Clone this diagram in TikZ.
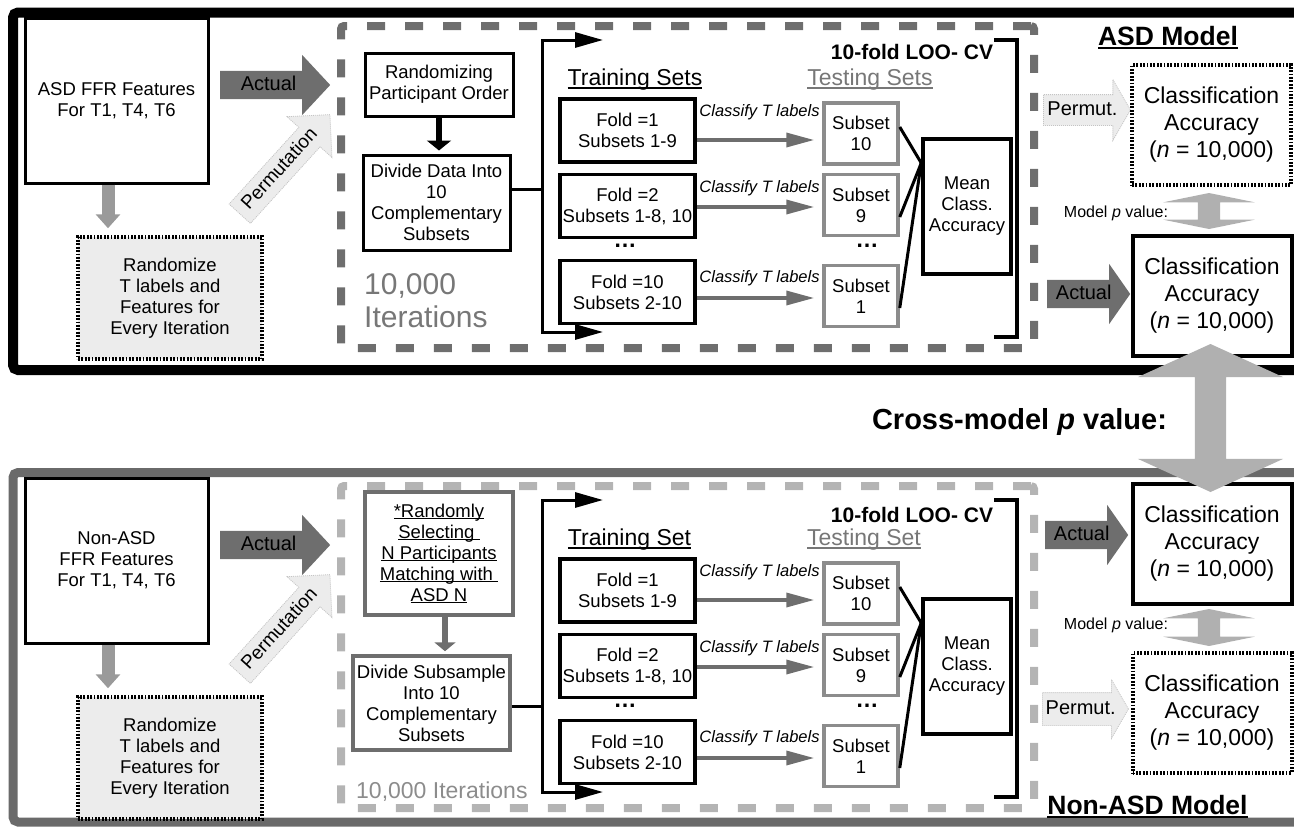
\documentclass[tikz,border=0pt]{standalone}
\usepackage{fontspec}
\setmainfont{Liberation Sans}
\usetikzlibrary{arrows.meta, shapes.arrows, positioning}
\definecolor{gDark}{HTML}{6E6E6E}
\definecolor{gFrame}{HTML}{6A6A6A}
\definecolor{gDashL}{HTML}{B4B4B4}
\definecolor{gMid}{HTML}{9A9A9A}
\definecolor{gLight}{HTML}{ECECEC}
\definecolor{gEdge}{HTML}{C4C4C4}
\definecolor{gBig}{HTML}{B0B0B0}
\definecolor{gText}{HTML}{777777}
\definecolor{gSub}{HTML}{8C8C8C}
\newcommand{\fsz}[2]{\fontsize{#1}{#2}\selectfont}
\newcommand{\uln}[1]{\leavevmode\setbox0\hbox{#1}\rlap{\rule[-0.13em]{\wd0}{0.07em}}\box0}
\tikzset{
  plainbox/.style  = {draw, line width=3pt, align=center, inner sep=0pt, font=\fsz{18.5}{21}},
  featbox/.style   = {plainbox, minimum width=183pt, minimum height=165pt},
  randbox/.style   = {plainbox, fill=gLight, line width=3.5pt, dash pattern=on 1.8pt off 1.6pt,
                      minimum width=184pt, minimum height=122pt},
  foldbox/.style   = {plainbox, line width=3.5pt, minimum width=135pt, minimum height=63pt},
  subbox/.style    = {plainbox, draw=gSub, line width=3.5pt, minimum width=74pt, minimum height=61pt},
  meanbox/.style   = {plainbox, line width=3.5pt, minimum width=88pt, minimum height=135pt},
  accbox/.style    = {plainbox, line width=4pt, minimum width=159pt, minimum height=120pt, font=\fsz{23}{27}},
  accdot/.style    = {accbox, dash pattern=on 1.8pt off 1.6pt},
  iterbox/.style   = {draw=#1, line width=8pt, dash pattern=on 18pt off 20pt, rounded corners=3pt,
                      minimum width=693pt, minimum height=322pt, inner sep=0pt},
  actarrow/.style  = {single arrow, fill=gDark, font=\fsz{20}{22}, text height=14pt, text depth=4pt,
                      inner xsep=0pt, inner ysep=5pt, single arrow head extend=16pt, minimum height=#1},
  permarrow/.style = {actarrow=#1, fill=gLight, draw=gEdge, line width=0.8pt, dash pattern=on 1pt off 1pt},
  dblarrow/.style  = {double arrow, fill=gBig, rotate=90, text height=0pt, text depth=0pt, inner xsep=0pt},
  clsarrow/.style  = {gDark, line width=3.5pt, -{Triangle[width=14pt,length=28pt]}, shorten >=8pt},
  cls/.style       = {text=black, font=\fsz{16.5}{18}\itshape, inner sep=0pt},
  forkline/.style  = {line width=3pt, -{Triangle[width=15pt,length=28pt]}},
  joinline/.style  = {line width=3pt},
  downarrow/.style = {gMid, line width=13pt, -{Triangle[width=24pt,length=14pt]}, shorten >=7pt},
  steparrow/.style = {line width=5.5pt, -{Triangle[width=24pt,length=10pt]}, shorten >=3pt},
  setlbl/.style    = {font=\fsz{23}{26}, inner sep=0pt},
  cvlbl/.style     = {font=\fsz{21}{24}\bfseries, inner sep=0pt},
  modellbl/.style  = {font=\fsz{26.5}{30}\bfseries, inner sep=0pt},
  dotlbl/.style    = {font=\fsz{23}{26}\bfseries, inner sep=0pt},
}

\begin{document}
\begin{tikzpicture}[x=1pt, y=-1pt]
  \useasboundingbox (0,0) rectangle (1294,830);
  \clip (0,0) rectangle (1294,830);
  \draw[line width=10pt, rounded corners=5pt] (13,12.5) rectangle (1330,370);
  \draw[gFrame, line width=9pt, rounded corners=5pt] (13,472.5) rectangle (1330,822);
  \node[iterbox=gDark] (asdIter) at (687.5,187) {};
  \node[iterbox=gDashL] (nasdIter) at (687.5,647) {};

  % ASD model
  \node[featbox] (asdF) at (116.5,100.5) {ASD FFR Features\\For T1, T4, T6};
  \node[randbox] (asdRand) at (170,298) {Randomize\\T labels and\\Features for\\Every Iteration};
  \node[actarrow=110pt, single arrow tip angle=94, anchor=tail] (asdAct) at (220,85) {Actual};
  \node[permarrow=134pt, rotate=47.7, font=\fsz{19}{21}, inner ysep=5pt,
        single arrow head extend=16pt] (asdPerm) at (280,169.5) {Permutation};
  \node[plainbox, minimum width=148pt, minimum height=63pt] (asdOrder) at (439,84.5) {Randomizing\\Participant Order};
  \node[plainbox, minimum width=147pt, minimum height=95pt] (asdDiv) at (436.5,202.5)
    {Divide Data Into\\10\\Complementary\\Subsets};
  \node[gText, font=\fsz{30}{33}, align=left, inner sep=0pt, anchor=west] (asdIt) at (364,301) {10,000\\Iterations};
  \coordinate (asdFork) at (542,189);
  \coordinate (asdUp) at (603,40);
  \coordinate (asdDown) at (603,332);
  \node[setlbl] (asdTrain) at (635,80) {\uln{Training Sets}};
  \node[foldbox] (asdF1) at (627.5,130.5) {Fold =1\\Subsets 1-9};
  \node[foldbox] (asdF2) at (627.5,206) {Fold =2\\Subsets 1-8, 10};
  \node[dotlbl] (asdFdots) at (625,246) {…};
  \node[foldbox] (asdF10) at (627.5,292) {Fold =10\\Subsets 2-10};
  \node[cvlbl] (asdCV) at (912,52) {10-fold LOO- CV};
  \node[setlbl, gText] (asdTest) at (870,80) {\uln{Testing Sets}};
  \node[subbox] (asdS10) at (861,133.5) {Subset\\10};
  \node[subbox] (asdS9) at (861,205) {Subset\\9};
  \node[dotlbl] (asdSdots) at (867,246) {…};
  \node[subbox] (asdS1) at (861,296) {Subset\\1};
  \node[meanbox] (asdMean) at (967,206.5) {Mean\\Class.\\Accuracy};
  \coordinate (asdJoin) at ([yshift=43.5pt]asdMean.west);
  \node[modellbl] (asdModel) at (1168,38) {\uln{ASD Model}};
  \node[permarrow=87pt, single arrow tip angle=120, inner ysep=6pt, single arrow head extend=15pt,
        anchor=tail] (asdPermR) at (1043,110) {Permut.};
  \node[accdot] (asdAccP) at (1211.5,125) {Classification\\Accuracy\\(\textit{n} = 10,000)};
  \node[font=\fsz{16}{18}, inner sep=0pt] (asdPv) at (1116,213) {Model \textit{p} value:};
  \node[dblarrow, inner ysep=11pt, double arrow head extend=34.5pt, double arrow tip angle=157,
        minimum height=36pt] (asdPvArr) at (1209,211) {};
  \node[actarrow=83pt, single arrow tip angle=110, anchor=tail] (asdActR) at (1047,294) {Actual};
  \node[accbox] (asdAccA) at (1212,296) {Classification\\Accuracy\\(\textit{n} = 10,000)};

  \draw[downarrow] ([xshift=-8.5pt]asdF.south) -- ([xshift=-8.5pt]asdF.south |- asdRand.north);
  \draw[steparrow] (asdOrder.south) -- (asdOrder.south |- asdDiv.north);
  \draw[forkline] (asdDiv.east |- asdFork) -- (asdFork) |- (asdUp);
  \draw[forkline] (asdFork) |- (asdDown);
  \draw[clsarrow] ([yshift=-9.5pt]asdF1.east) -- ([yshift=-9.5pt]asdF1.east -| asdS10.west)
    node[cls, midway, above=18pt] {Classify T labels};
  \draw[clsarrow] ([yshift=-1pt]asdF2.east) -- ([yshift=-1pt]asdF2.east -| asdS9.west)
    node[cls, midway, above=9pt] {Classify T labels};
  \draw[clsarrow] ([yshift=-6pt]asdF10.east) -- ([yshift=-6pt]asdF10.east -| asdS1.west)
    node[cls, midway, above=10pt] {Classify T labels};
  \draw[joinline] ([yshift=6.5pt]asdS10.east) -- (asdJoin);
  \draw[joinline] ([yshift=-12pt]asdS9.east) -- (asdJoin);
  \draw[joinline] ([yshift=-12pt]asdS1.east) -- (asdJoin);
  \draw[line width=3.5pt] (994,40) -- (1017,40) -- (1017,337) -- (994,337);

  % Non-ASD model
  \node[featbox] (nasdF) at (116.5,560.5) {Non-ASD\\FFR Features\\For T1, T4, T6};
  \node[randbox] (nasdRand) at (170,758) {Randomize\\T labels and\\Features for\\Every Iteration};
  \node[actarrow=110pt, single arrow tip angle=94, anchor=tail] (nasdAct) at (220,545) {Actual};
  \node[permarrow=134pt, rotate=47.7, font=\fsz{19}{21}, inner ysep=5pt,
        single arrow head extend=16pt] (nasdPerm) at (280,629.5) {Permutation};
  \node[plainbox, draw=gDark, line width=3.5pt, minimum width=148pt, minimum height=123pt] (nasdSel) at (439,553.5)
    {\uln{*Randomly}\\\uln{Selecting\ }\\\uln{N Participants}\\\uln{Matching with\ }\\\uln{ASD N}};
  \node[plainbox, draw=gDark, line width=3.5pt, minimum width=157pt, minimum height=94pt] (nasdDiv) at (431.5,703)
    {Divide Subsample\\Into 10\\Complementary\\Subsets};
  \node[gSub, font=\fsz{23}{26}, inner sep=0pt, anchor=west] (nasdIt) at (356,792) {10,000 Iterations};
  \coordinate (nasdFork) at (542,706);
  \coordinate (nasdUp) at (603,500);
  \coordinate (nasdDown) at (603,792);
  \node[setlbl] (nasdTrain) at (629.5,540) {\uln{Training Set}};
  \node[foldbox] (nasdF1) at (627.5,590.5) {Fold =1\\Subsets 1-9};
  \node[foldbox] (nasdF2) at (627.5,666) {Fold =2\\Subsets 1-8, 10};
  \node[dotlbl] (nasdFdots) at (625,706) {…};
  \node[foldbox] (nasdF10) at (627.5,752) {Fold =10\\Subsets 2-10};
  \node[cvlbl] (nasdCV) at (912,515) {10-fold LOO- CV};
  \node[setlbl, gText] (nasdTest) at (864,540) {\uln{Testing Set}};
  \node[subbox] (nasdS10) at (861,593.5) {Subset\\10};
  \node[subbox] (nasdS9) at (861,665) {Subset\\9};
  \node[dotlbl] (nasdSdots) at (867,706) {…};
  \node[subbox] (nasdS1) at (861,756) {Subset\\1};
  \node[meanbox] (nasdMean) at (967,666.5) {Mean\\Class.\\Accuracy};
  \coordinate (nasdJoin) at ([yshift=43.5pt]nasdMean.west);
  \node[actarrow=83pt, single arrow tip angle=110, anchor=tail] (nasdActR) at (1045,535) {Actual};
  \node[accbox] (nasdAccA) at (1212,544) {Classification\\Accuracy\\(\textit{n} = 10,000)};
  \node[font=\fsz{16}{18}, inner sep=0pt] (nasdPv) at (1116,625) {Model \textit{p} value:};
  \node[dblarrow, inner ysep=11pt, double arrow head extend=34.5pt, double arrow tip angle=157,
        minimum height=37pt] (nasdPvArr) at (1209,627.5) {};
  \node[permarrow=86pt, single arrow tip angle=120, inner ysep=7pt, single arrow head extend=13pt,
        anchor=tail] (nasdPermR) at (1042,709) {Permut.};
  \node[accdot] (nasdAccP) at (1212,713) {Classification\\Accuracy\\(\textit{n} = 10,000)};
  \node[modellbl] (nasdModel) at (1147.5,807) {\uln{Non-ASD Model}};

  \draw[downarrow] ([xshift=-8.5pt]nasdF.south) -- ([xshift=-8.5pt]nasdF.south |- nasdRand.north);
  \draw[steparrow, gDark, line width=6pt, -{Triangle[width=21pt,length=9pt]}]
    ([xshift=6pt]nasdSel.south) -- ([xshift=6pt]nasdSel.south |- nasdDiv.north);
  \draw[forkline] (nasdDiv.east |- nasdFork) -- (nasdFork) |- (nasdUp);
  \draw[forkline] (nasdFork) |- (nasdDown);
  \draw[clsarrow] ([yshift=-9.5pt]nasdF1.east) -- ([yshift=-9.5pt]nasdF1.east -| nasdS10.west)
    node[cls, midway, above=18pt] {Classify T labels};
  \draw[clsarrow] ([yshift=-1pt]nasdF2.east) -- ([yshift=-1pt]nasdF2.east -| nasdS9.west)
    node[cls, midway, above=9pt] {Classify T labels};
  \draw[clsarrow] ([yshift=-6pt]nasdF10.east) -- ([yshift=-6pt]nasdF10.east -| nasdS1.west)
    node[cls, midway, above=10pt] {Classify T labels};
  \draw[joinline] ([yshift=6.5pt]nasdS10.east) -- (nasdJoin);
  \draw[joinline] ([yshift=-12pt]nasdS9.east) -- (nasdJoin);
  \draw[joinline] ([yshift=-12pt]nasdS1.east) -- (nasdJoin);
  \draw[line width=3.5pt] (994,500) -- (1017,500) -- (1017,797) -- (994,797);

  % cross-model comparison
  \node[font=\fsz{29}{32}\bfseries, inner sep=0pt] (crossLbl) at (1019.5,422) {Cross-model \textit{p} value:};
  \node[dblarrow, inner ysep=15.5pt, double arrow head extend=57pt, double arrow tip angle=131,
        minimum height=148pt] (crossArr) at (1210.5,418) {};
\end{tikzpicture}
\end{document}
